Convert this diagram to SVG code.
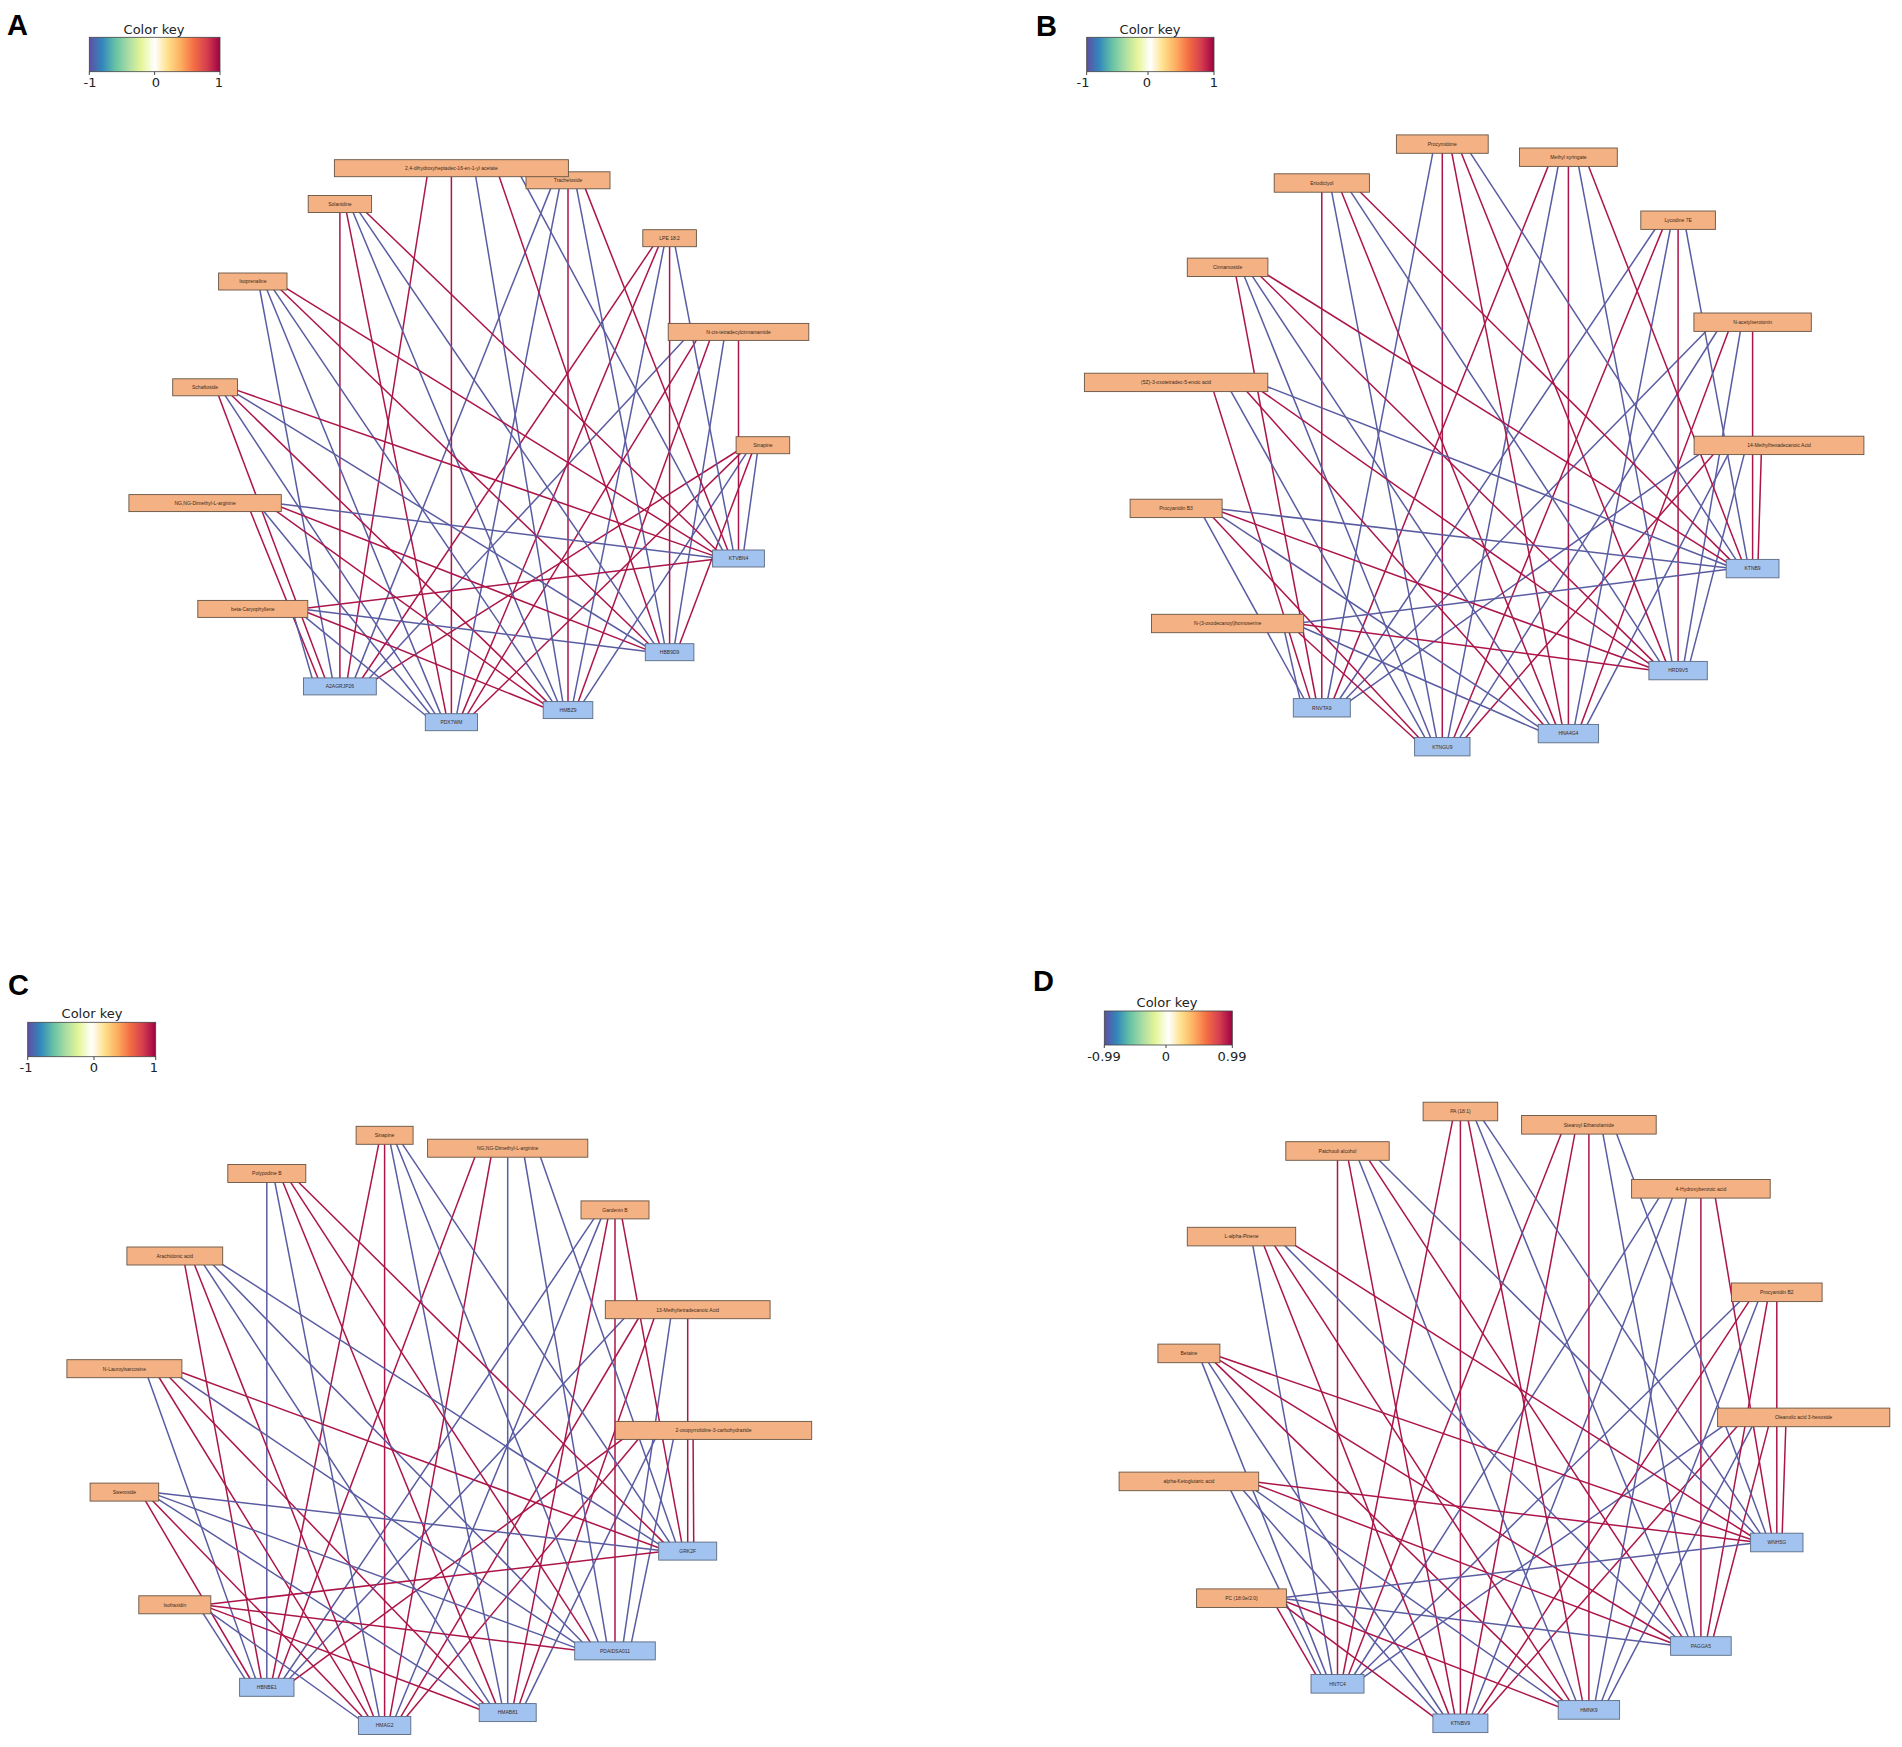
<svg xmlns="http://www.w3.org/2000/svg" width="1902" height="1747" viewBox="0 0 1902 1747">
<defs>
<linearGradient id="spec" x1="0" y1="0" x2="1" y2="0">
<stop offset="0" stop-color="#5E4FA2"/><stop offset="0.1" stop-color="#3288BD"/><stop offset="0.2" stop-color="#66C2A5"/><stop offset="0.3" stop-color="#ABDDA4"/><stop offset="0.4" stop-color="#E6F598"/><stop offset="0.5" stop-color="#FFFFFF"/><stop offset="0.6" stop-color="#FEE08B"/><stop offset="0.7" stop-color="#FDAE61"/><stop offset="0.8" stop-color="#F46D43"/><stop offset="0.9" stop-color="#D53E4F"/><stop offset="1" stop-color="#9E0142"/>
</linearGradient>
</defs>
<style>
.e line{fill:none;stroke-width:1.5}
.e .r{stroke:#AC154A}
.e .b{stroke:#5A5CA2}
.cn rect{fill:#F4B183;stroke:#665444;stroke-width:0.9}
.gn rect{fill:#A2C3EF;stroke:#5B6B82;stroke-width:0.9}
.l{font-family:"Liberation Sans",Arial,sans-serif;font-size:5px;fill:#3a2a1a;text-anchor:middle}
.key rect{fill:url(#spec);stroke:#444;stroke-width:0.8}
.key line{stroke:#444;stroke-width:1}
.key text{font-family:"DejaVu Sans",sans-serif;font-size:13px;fill:#222;text-anchor:middle}
.lab{font-family:"Liberation Sans",Arial,sans-serif;font-weight:bold;font-size:29px;fill:#000}
</style>
<rect width="1902" height="1747" fill="#fff"/>

<text class="lab" x="7" y="35">A</text>
<text class="lab" x="1036" y="36">B</text>
<text class="lab" x="8" y="995">C</text>
<text class="lab" x="1033" y="991">D</text>

<g id="key-A" class="key"><text x="154" y="33.5">Color key</text><rect x="89.3" y="37.3" width="130.7" height="34.4"/><line x1="89.3" y1="71.7" x2="89.3" y2="75"/><line x1="154.6" y1="71.7" x2="154.6" y2="75"/><line x1="220" y1="71.7" x2="220" y2="75"/><text x="90" y="87">-1</text><text x="156" y="87">0</text><text x="219" y="87">1</text></g>
<g id="key-B" class="key"><text x="1150" y="33.5">Color key</text><rect x="1086.7" y="37.3" width="127.3" height="34.4"/><line x1="1086.7" y1="71.7" x2="1086.7" y2="75"/><line x1="1148" y1="71.7" x2="1148" y2="75"/><line x1="1214" y1="71.7" x2="1214" y2="75"/><text x="1083" y="87">-1</text><text x="1147" y="87">0</text><text x="1214" y="87">1</text></g>
<g id="key-C" class="key"><text x="92" y="1018">Color key</text><rect x="27.7" y="1022.3" width="128" height="34.4"/><line x1="27.7" y1="1056.7" x2="27.7" y2="1060"/><line x1="94" y1="1056.7" x2="94" y2="1060"/><line x1="155.7" y1="1056.7" x2="155.7" y2="1060"/><text x="26" y="1072">-1</text><text x="94" y="1072">0</text><text x="154" y="1072">1</text></g>
<g id="key-D" class="key"><text x="1167" y="1007">Color key</text><rect x="1104.3" y="1011" width="128" height="34" /><line x1="1104.3" y1="1045" x2="1104.3" y2="1048"/><line x1="1166" y1="1045" x2="1166" y2="1048"/><line x1="1232.3" y1="1045" x2="1232.3" y2="1048"/><text x="1104" y="1061">-0.99</text><text x="1166" y="1061">0</text><text x="1232" y="1061">0.99</text></g>

<g id="connectors" class="e">
<g id="edges-A">
<line class="r" x1="739.7" y1="449.5" x2="371.4" y2="682.2"/>
<line class="r" x1="743.0" y1="450.9" x2="470.8" y2="716.5"/>
<line class="b" x1="747.1" y1="452.1" x2="582.6" y2="703.2"/>
<line class="r" x1="752.0" y1="453.0" x2="679.5" y2="644.4"/>
<line class="b" x1="757.3" y1="453.5" x2="743.9" y2="550.2"/>
<line class="b" x1="686.3" y1="337.6" x2="366.9" y2="680.7"/>
<line class="r" x1="697.2" y1="338.8" x2="466.7" y2="715.3"/>
<line class="r" x1="709.9" y1="339.7" x2="578.1" y2="702.3"/>
<line class="b" x1="723.9" y1="340.2" x2="674.7" y2="643.9"/>
<line class="r" x1="738.5" y1="340.4" x2="738.5" y2="550.0"/>
<line class="r" x1="653.8" y1="245.1" x2="361.3" y2="679.5"/>
<line class="r" x1="658.7" y1="246.0" x2="462.0" y2="714.4"/>
<line class="b" x1="664.0" y1="246.5" x2="573.2" y2="701.8"/>
<line class="r" x1="669.6" y1="246.7" x2="669.6" y2="643.7"/>
<line class="b" x1="675.2" y1="246.5" x2="733.1" y2="550.2"/>
<line class="b" x1="550.9" y1="188.1" x2="354.7" y2="678.6"/>
<line class="b" x1="559.3" y1="188.6" x2="456.8" y2="713.9"/>
<line class="r" x1="568.0" y1="188.8" x2="568.0" y2="701.6"/>
<line class="b" x1="576.7" y1="188.6" x2="664.5" y2="643.9"/>
<line class="r" x1="585.1" y1="188.1" x2="728.0" y2="550.7"/>
<line class="r" x1="427.1" y1="176.5" x2="347.5" y2="678.1"/>
<line class="r" x1="451.4" y1="176.7" x2="451.4" y2="713.7"/>
<line class="b" x1="475.7" y1="176.5" x2="562.8" y2="701.8"/>
<line class="r" x1="499.0" y1="176.0" x2="659.7" y2="644.4"/>
<line class="b" x1="520.2" y1="175.1" x2="723.3" y2="551.6"/>
<line class="r" x1="339.9" y1="212.5" x2="339.9" y2="677.9"/>
<line class="r" x1="346.5" y1="212.3" x2="446.0" y2="713.9"/>
<line class="b" x1="352.8" y1="211.8" x2="557.9" y2="702.3"/>
<line class="b" x1="358.5" y1="210.9" x2="655.3" y2="645.3"/>
<line class="r" x1="363.5" y1="209.7" x2="719.3" y2="552.8"/>
<line class="b" x1="259.9" y1="289.8" x2="332.3" y2="678.1"/>
<line class="b" x1="266.7" y1="289.3" x2="440.8" y2="714.4"/>
<line class="b" x1="272.9" y1="288.4" x2="553.4" y2="703.2"/>
<line class="r" x1="278.2" y1="287.2" x2="651.5" y2="646.5"/>
<line class="r" x1="282.4" y1="285.8" x2="716.1" y2="554.3"/>
<line class="r" x1="218.3" y1="395.1" x2="325.1" y2="678.6"/>
<line class="b" x1="224.2" y1="394.2" x2="436.1" y2="715.3"/>
<line class="r" x1="229.2" y1="393.0" x2="549.6" y2="704.4"/>
<line class="b" x1="233.2" y1="391.6" x2="648.6" y2="648.0"/>
<line class="r" x1="235.9" y1="389.9" x2="713.9" y2="555.9"/>
<line class="r" x1="249.9" y1="510.0" x2="318.5" y2="679.5"/>
<line class="b" x1="261.7" y1="508.8" x2="432.0" y2="716.5"/>
<line class="r" x1="271.1" y1="507.4" x2="546.5" y2="705.9"/>
<line class="r" x1="277.6" y1="505.7" x2="646.5" y2="649.6"/>
<line class="b" x1="280.9" y1="504.0" x2="712.7" y2="557.6"/>
<line class="b" x1="293.7" y1="614.6" x2="312.9" y2="680.7"/>
<line class="b" x1="300.4" y1="613.2" x2="428.8" y2="718.0"/>
<line class="r" x1="305.1" y1="611.5" x2="544.4" y2="707.5"/>
<line class="b" x1="307.5" y1="609.8" x2="645.4" y2="651.3"/>
<line class="r" x1="307.5" y1="608.0" x2="712.7" y2="559.4"/>
</g>
<g id="edges-B">
<line class="b" x1="1705.5" y1="449.9" x2="1346.5" y2="703.3"/>
<line class="r" x1="1715.9" y1="451.4" x2="1462.9" y2="740.7"/>
<line class="b" x1="1729.1" y1="452.7" x2="1586.2" y2="726.3"/>
<line class="b" x1="1744.4" y1="453.6" x2="1690.0" y2="662.4"/>
<line class="r" x1="1761.3" y1="454.2" x2="1758.1" y2="559.8"/>
<line class="b" x1="1709.0" y1="328.2" x2="1343.0" y2="701.8"/>
<line class="b" x1="1718.1" y1="329.5" x2="1458.6" y2="739.4"/>
<line class="r" x1="1728.7" y1="330.4" x2="1580.7" y2="725.4"/>
<line class="b" x1="1740.4" y1="331.0" x2="1684.2" y2="661.8"/>
<line class="r" x1="1752.6" y1="331.2" x2="1752.6" y2="559.6"/>
<line class="b" x1="1656.2" y1="227.5" x2="1338.6" y2="700.5"/>
<line class="r" x1="1662.9" y1="228.4" x2="1453.6" y2="738.5"/>
<line class="b" x1="1670.3" y1="229.0" x2="1574.7" y2="724.8"/>
<line class="r" x1="1678.1" y1="229.2" x2="1678.1" y2="661.6"/>
<line class="b" x1="1685.9" y1="229.0" x2="1747.1" y2="559.8"/>
<line class="r" x1="1548.5" y1="165.4" x2="1333.4" y2="699.6"/>
<line class="b" x1="1558.2" y1="166.0" x2="1448.1" y2="737.9"/>
<line class="r" x1="1568.4" y1="166.2" x2="1568.4" y2="724.6"/>
<line class="b" x1="1578.6" y1="166.0" x2="1672.0" y2="661.8"/>
<line class="r" x1="1588.3" y1="165.4" x2="1741.9" y2="560.4"/>
<line class="b" x1="1432.8" y1="152.9" x2="1327.7" y2="699.0"/>
<line class="r" x1="1442.3" y1="153.1" x2="1442.3" y2="737.7"/>
<line class="r" x1="1451.8" y1="152.9" x2="1562.1" y2="724.8"/>
<line class="r" x1="1461.0" y1="152.3" x2="1666.2" y2="662.4"/>
<line class="b" x1="1469.3" y1="151.4" x2="1737.1" y2="561.3"/>
<line class="r" x1="1321.8" y1="192.0" x2="1321.8" y2="698.8"/>
<line class="b" x1="1331.7" y1="191.8" x2="1436.5" y2="737.9"/>
<line class="r" x1="1341.2" y1="191.2" x2="1556.1" y2="725.4"/>
<line class="b" x1="1349.8" y1="190.3" x2="1660.9" y2="663.3"/>
<line class="r" x1="1357.2" y1="189.0" x2="1733.0" y2="562.6"/>
<line class="r" x1="1236.0" y1="276.1" x2="1315.9" y2="699.0"/>
<line class="b" x1="1244.0" y1="275.5" x2="1431.0" y2="738.5"/>
<line class="b" x1="1251.3" y1="274.6" x2="1550.6" y2="726.3"/>
<line class="r" x1="1257.5" y1="273.3" x2="1656.4" y2="664.6"/>
<line class="r" x1="1262.5" y1="271.8" x2="1729.7" y2="564.1"/>
<line class="r" x1="1213.4" y1="390.6" x2="1310.2" y2="699.6"/>
<line class="b" x1="1230.0" y1="389.7" x2="1426.0" y2="739.4"/>
<line class="r" x1="1244.2" y1="388.4" x2="1546.0" y2="727.6"/>
<line class="r" x1="1255.5" y1="386.9" x2="1652.8" y2="666.1"/>
<line class="b" x1="1263.3" y1="385.2" x2="1727.5" y2="565.8"/>
<line class="b" x1="1203.1" y1="515.7" x2="1305.0" y2="700.5"/>
<line class="r" x1="1210.3" y1="514.4" x2="1421.7" y2="740.7"/>
<line class="b" x1="1215.9" y1="512.9" x2="1542.2" y2="729.1"/>
<line class="r" x1="1219.8" y1="511.2" x2="1650.3" y2="667.8"/>
<line class="b" x1="1221.8" y1="509.3" x2="1726.3" y2="567.7"/>
<line class="b" x1="1284.1" y1="629.5" x2="1300.6" y2="701.8"/>
<line class="r" x1="1293.5" y1="628.0" x2="1418.3" y2="742.2"/>
<line class="b" x1="1300.0" y1="626.3" x2="1539.7" y2="730.8"/>
<line class="r" x1="1303.3" y1="624.4" x2="1649.1" y2="669.7"/>
<line class="b" x1="1303.3" y1="622.6" x2="1726.3" y2="569.5"/>
</g>
<g id="edges-C">
<line class="r" x1="628.5" y1="1434.9" x2="290.4" y2="1682.8"/>
<line class="r" x1="640.5" y1="1436.4" x2="404.1" y2="1719.5"/>
<line class="b" x1="655.8" y1="1437.7" x2="524.5" y2="1705.3"/>
<line class="b" x1="673.5" y1="1438.6" x2="631.4" y2="1642.7"/>
<line class="r" x1="693.1" y1="1439.2" x2="693.7" y2="1542.3"/>
<line class="b" x1="626.5" y1="1315.7" x2="287.0" y2="1681.3"/>
<line class="r" x1="639.2" y1="1317.0" x2="400.0" y2="1718.2"/>
<line class="r" x1="654.2" y1="1317.9" x2="519.3" y2="1704.4"/>
<line class="b" x1="670.6" y1="1318.5" x2="623.4" y2="1642.1"/>
<line class="r" x1="687.7" y1="1318.7" x2="687.7" y2="1542.1"/>
<line class="b" x1="595.0" y1="1217.2" x2="282.8" y2="1680.0"/>
<line class="b" x1="601.2" y1="1218.1" x2="395.3" y2="1717.3"/>
<line class="r" x1="607.9" y1="1218.7" x2="513.6" y2="1703.8"/>
<line class="r" x1="615.0" y1="1218.9" x2="615.0" y2="1641.9"/>
<line class="r" x1="622.1" y1="1218.7" x2="681.7" y2="1542.3"/>
<line class="r" x1="475.1" y1="1156.4" x2="277.9" y2="1679.1"/>
<line class="r" x1="491.0" y1="1157.0" x2="390.0" y2="1716.7"/>
<line class="b" x1="507.7" y1="1157.2" x2="507.7" y2="1703.6"/>
<line class="b" x1="524.4" y1="1157.0" x2="606.6" y2="1642.1"/>
<line class="b" x1="540.3" y1="1156.4" x2="675.9" y2="1542.9"/>
<line class="r" x1="378.7" y1="1144.1" x2="272.5" y2="1678.5"/>
<line class="r" x1="384.6" y1="1144.3" x2="384.6" y2="1716.5"/>
<line class="b" x1="390.5" y1="1144.1" x2="501.8" y2="1703.8"/>
<line class="b" x1="396.2" y1="1143.5" x2="598.6" y2="1642.7"/>
<line class="b" x1="401.4" y1="1142.6" x2="670.6" y2="1543.8"/>
<line class="b" x1="266.8" y1="1182.5" x2="266.8" y2="1678.3"/>
<line class="b" x1="274.9" y1="1182.3" x2="379.2" y2="1716.7"/>
<line class="r" x1="282.7" y1="1181.7" x2="496.1" y2="1704.4"/>
<line class="r" x1="289.7" y1="1180.8" x2="591.3" y2="1643.6"/>
<line class="r" x1="295.8" y1="1179.5" x2="666.2" y2="1545.1"/>
<line class="r" x1="184.8" y1="1264.8" x2="261.1" y2="1678.5"/>
<line class="r" x1="194.3" y1="1264.2" x2="373.9" y2="1717.3"/>
<line class="b" x1="203.0" y1="1263.3" x2="490.9" y2="1705.3"/>
<line class="b" x1="210.4" y1="1262.0" x2="585.1" y2="1644.9"/>
<line class="b" x1="216.3" y1="1260.5" x2="662.6" y2="1546.6"/>
<line class="b" x1="147.8" y1="1376.9" x2="255.7" y2="1679.1"/>
<line class="r" x1="158.2" y1="1376.0" x2="369.2" y2="1718.2"/>
<line class="r" x1="167.1" y1="1374.7" x2="486.5" y2="1706.6"/>
<line class="b" x1="174.2" y1="1373.2" x2="580.1" y2="1646.4"/>
<line class="r" x1="179.1" y1="1371.5" x2="660.1" y2="1548.3"/>
<line class="r" x1="144.6" y1="1499.4" x2="250.8" y2="1680.0"/>
<line class="r" x1="149.9" y1="1498.1" x2="365.1" y2="1719.5"/>
<line class="b" x1="154.1" y1="1496.6" x2="483.0" y2="1708.1"/>
<line class="b" x1="157.0" y1="1494.9" x2="576.7" y2="1648.1"/>
<line class="b" x1="158.5" y1="1493.0" x2="658.9" y2="1550.2"/>
<line class="b" x1="201.5" y1="1610.8" x2="246.6" y2="1681.3"/>
<line class="b" x1="206.0" y1="1609.3" x2="361.9" y2="1721.0"/>
<line class="r" x1="209.0" y1="1607.6" x2="480.6" y2="1709.8"/>
<line class="r" x1="210.6" y1="1605.7" x2="574.9" y2="1650.0"/>
<line class="r" x1="210.6" y1="1603.9" x2="658.9" y2="1552.0"/>
</g>
<g id="edges-D">
<line class="b" x1="1729.1" y1="1421.9" x2="1360.4" y2="1679.3"/>
<line class="r" x1="1739.7" y1="1423.4" x2="1480.8" y2="1717.3"/>
<line class="b" x1="1753.1" y1="1424.7" x2="1607.0" y2="1702.6"/>
<line class="r" x1="1768.7" y1="1425.6" x2="1713.2" y2="1637.8"/>
<line class="r" x1="1785.8" y1="1426.2" x2="1782.2" y2="1533.7"/>
<line class="b" x1="1743.1" y1="1298.3" x2="1357.2" y2="1677.8"/>
<line class="r" x1="1750.2" y1="1299.6" x2="1476.6" y2="1716.0"/>
<line class="b" x1="1758.4" y1="1300.5" x2="1601.4" y2="1701.7"/>
<line class="r" x1="1767.4" y1="1301.1" x2="1707.2" y2="1637.2"/>
<line class="r" x1="1776.8" y1="1301.3" x2="1776.8" y2="1533.5"/>
<line class="b" x1="1660.2" y1="1196.1" x2="1353.1" y2="1676.5"/>
<line class="b" x1="1672.7" y1="1197.0" x2="1471.6" y2="1715.1"/>
<line class="b" x1="1686.5" y1="1197.6" x2="1595.3" y2="1701.1"/>
<line class="r" x1="1700.9" y1="1197.8" x2="1700.9" y2="1637.0"/>
<line class="r" x1="1715.3" y1="1197.6" x2="1771.4" y2="1533.7"/>
<line class="r" x1="1561.5" y1="1133.0" x2="1348.3" y2="1675.6"/>
<line class="r" x1="1574.9" y1="1133.6" x2="1466.1" y2="1714.5"/>
<line class="r" x1="1588.9" y1="1133.8" x2="1588.9" y2="1700.9"/>
<line class="b" x1="1602.9" y1="1133.6" x2="1694.6" y2="1637.2"/>
<line class="b" x1="1616.3" y1="1133.0" x2="1766.1" y2="1534.3"/>
<line class="r" x1="1452.6" y1="1120.3" x2="1343.0" y2="1675.0"/>
<line class="r" x1="1460.4" y1="1120.5" x2="1460.4" y2="1714.3"/>
<line class="r" x1="1468.2" y1="1120.3" x2="1582.5" y2="1701.1"/>
<line class="b" x1="1475.6" y1="1119.7" x2="1688.6" y2="1637.8"/>
<line class="b" x1="1482.3" y1="1118.8" x2="1761.4" y2="1535.2"/>
<line class="r" x1="1337.5" y1="1160.0" x2="1337.5" y2="1674.8"/>
<line class="r" x1="1348.3" y1="1159.8" x2="1454.7" y2="1714.5"/>
<line class="b" x1="1358.5" y1="1159.2" x2="1576.4" y2="1701.7"/>
<line class="r" x1="1367.9" y1="1158.3" x2="1683.1" y2="1638.7"/>
<line class="b" x1="1375.9" y1="1157.0" x2="1757.3" y2="1536.5"/>
<line class="b" x1="1252.8" y1="1245.4" x2="1332.0" y2="1675.0"/>
<line class="r" x1="1263.6" y1="1244.8" x2="1449.2" y2="1715.1"/>
<line class="r" x1="1273.4" y1="1243.9" x2="1570.8" y2="1702.6"/>
<line class="b" x1="1281.8" y1="1242.6" x2="1678.4" y2="1640.0"/>
<line class="r" x1="1288.4" y1="1241.1" x2="1754.1" y2="1538.0"/>
<line class="b" x1="1201.5" y1="1361.6" x2="1326.7" y2="1675.6"/>
<line class="b" x1="1207.1" y1="1360.7" x2="1444.2" y2="1716.0"/>
<line class="r" x1="1211.9" y1="1359.4" x2="1566.1" y2="1703.9"/>
<line class="r" x1="1215.7" y1="1357.9" x2="1674.7" y2="1641.5"/>
<line class="r" x1="1218.4" y1="1356.2" x2="1751.9" y2="1539.7"/>
<line class="b" x1="1229.9" y1="1488.7" x2="1321.9" y2="1676.5"/>
<line class="b" x1="1240.8" y1="1487.4" x2="1440.0" y2="1717.3"/>
<line class="b" x1="1249.3" y1="1485.9" x2="1562.3" y2="1705.4"/>
<line class="r" x1="1255.3" y1="1484.2" x2="1672.1" y2="1643.2"/>
<line class="r" x1="1258.3" y1="1482.3" x2="1750.7" y2="1541.6"/>
<line class="r" x1="1274.9" y1="1604.2" x2="1317.8" y2="1677.8"/>
<line class="r" x1="1280.4" y1="1602.7" x2="1436.6" y2="1719.1"/>
<line class="r" x1="1284.2" y1="1601.0" x2="1559.7" y2="1707.3"/>
<line class="b" x1="1286.2" y1="1599.1" x2="1670.8" y2="1645.1"/>
<line class="b" x1="1286.2" y1="1597.3" x2="1750.7" y2="1543.4"/>
</g>
</g>

<g id="nodes-A">
<g id="A-c0" class="cn"><rect x="736.1" y="436.7" width="53.6" height="17"/><text class="l" x="762.9" y="447">Sinapine</text></g>
<g id="A-c1" class="cn"><rect x="668.2" y="323.4" width="140.6" height="17"/><text class="l" x="738.5" y="333.7">N-cis-tetradecylcinnamamide</text></g>
<g id="A-c2" class="cn"><rect x="642.8" y="229.7" width="53.6" height="17"/><text class="l" x="669.6" y="240">LPE 18:2</text></g>
<g id="A-c3" class="cn"><rect x="526" y="171.8" width="84" height="17"/><text class="l" x="568" y="182.1">Tracheloside</text></g>
<g id="A-c4" class="cn"><rect x="334.4" y="159.7" width="234" height="17"/><text class="l" x="451.4" y="170">2,4-dihydroxyheptadec-16-en-1-yl acetate</text></g>
<g id="A-c5" class="cn"><rect x="308.2" y="195.5" width="63.4" height="17"/><text class="l" x="339.9" y="205.8">Solanidine</text></g>
<g id="A-c6" class="cn"><rect x="218.6" y="273" width="68.4" height="17"/><text class="l" x="252.8" y="283.3">Isoprenaline</text></g>
<g id="A-c7" class="cn"><rect x="172.7" y="378.8" width="64.8" height="17"/><text class="l" x="205.1" y="389.1">Schaftoside</text></g>
<g id="A-c8" class="cn"><rect x="128.9" y="494.6" width="152.4" height="17"/><text class="l" x="205.1" y="504.9">NG,NG-Dimethyl-L-arginine</text></g>
<g id="A-c9" class="cn"><rect x="197.8" y="600.4" width="110" height="17"/><text class="l" x="252.8" y="610.7">beta-Caryophyllene</text></g>
<g id="A-g10" class="gn"><rect x="303.5" y="677.9" width="72.8" height="17"/><text class="l" x="339.9" y="688.2">A2AGRJP26</text></g>
<g id="A-g11" class="gn"><rect x="425.3" y="713.7" width="52.2" height="17"/><text class="l" x="451.4" y="724">PDX7WM</text></g>
<g id="A-g12" class="gn"><rect x="543.2" y="701.6" width="49.6" height="17"/><text class="l" x="568" y="711.9">HMBZ9</text></g>
<g id="A-g13" class="gn"><rect x="645.3" y="643.7" width="48.6" height="17"/><text class="l" x="669.6" y="654">HBB9D9</text></g>
<g id="A-g14" class="gn"><rect x="712.6" y="550" width="51.8" height="17"/><text class="l" x="738.5" y="560.3">KTVBN4</text></g>
</g>

<g id="nodes-B">
<g id="B-c0" class="cn"><rect x="1694.1" y="436.2" width="169.8" height="18.4"/><text class="l" x="1779" y="447.2">14-Methylhexadecanoic Acid</text></g>
<g id="B-c1" class="cn"><rect x="1693.9" y="313" width="117.4" height="18.4"/><text class="l" x="1752.6" y="324">N-acetylserotonin</text></g>
<g id="B-c2" class="cn"><rect x="1640.8" y="211" width="74.6" height="18.4"/><text class="l" x="1678.1" y="222">Lycodine 7E</text></g>
<g id="B-c3" class="cn"><rect x="1519.5" y="148" width="97.8" height="18.4"/><text class="l" x="1568.4" y="159">Methyl syringate</text></g>
<g id="B-c4" class="cn"><rect x="1396.4" y="134.9" width="91.8" height="18.4"/><text class="l" x="1442.3" y="145.9">Procymidone</text></g>
<g id="B-c5" class="cn"><rect x="1274.2" y="173.8" width="95.2" height="18.4"/><text class="l" x="1321.8" y="184.8">Eriodictyol</text></g>
<g id="B-c6" class="cn"><rect x="1187.3" y="258.1" width="80.6" height="18.4"/><text class="l" x="1227.6" y="269.1">Cinnamoside</text></g>
<g id="B-c7" class="cn"><rect x="1084.4" y="373.2" width="183.4" height="18.4"/><text class="l" x="1176.1" y="384.2">(5Z)-3-oxotetradec-5-enoic acid</text></g>
<g id="B-c8" class="cn"><rect x="1130.1" y="499.2" width="92" height="18.4"/><text class="l" x="1176.1" y="510.2">Procyanidin B3</text></g>
<g id="B-c9" class="cn"><rect x="1151.5" y="614.3" width="152.2" height="18.4"/><text class="l" x="1227.6" y="625.3">N-(3-oxodecanoyl)homoserine</text></g>
<g id="B-g10" class="gn"><rect x="1293.3" y="698.6" width="57" height="18.4"/><text class="l" x="1321.8" y="709.6">RNVTA9</text></g>
<g id="B-g11" class="gn"><rect x="1414.6" y="737.5" width="55.4" height="18.4"/><text class="l" x="1442.3" y="748.5">KTNGU9</text></g>
<g id="B-g12" class="gn"><rect x="1538.2" y="724.4" width="60.4" height="18.4"/><text class="l" x="1568.4" y="735.4">HNA4G4</text></g>
<g id="B-g13" class="gn"><rect x="1648.9" y="661.4" width="58.4" height="18.4"/><text class="l" x="1678.1" y="672.4">HRD9V5</text></g>
<g id="B-g14" class="gn"><rect x="1726.2" y="559.4" width="52.8" height="18.4"/><text class="l" x="1752.6" y="570.4">KTNB9</text></g>
</g>

<g id="nodes-C">
<g id="C-c0" class="cn"><rect x="615.3" y="1421.4" width="196.4" height="18"/><text class="l" x="713.5" y="1432.2">2-oxopyrrolidine-3-carbohydrazide</text></g>
<g id="C-c1" class="cn"><rect x="605.3" y="1300.7" width="164.8" height="18"/><text class="l" x="687.7" y="1311.5">13-Methyltetradecanoic Acid</text></g>
<g id="C-c2" class="cn"><rect x="581" y="1200.9" width="68" height="18"/><text class="l" x="615" y="1211.7">Gardenin B</text></g>
<g id="C-c3" class="cn"><rect x="427.6" y="1139.2" width="160.2" height="18"/><text class="l" x="507.7" y="1150">NG,NG-Dimethyl-L-arginine</text></g>
<g id="C-c4" class="cn"><rect x="356.1" y="1126.3" width="57" height="18"/><text class="l" x="384.6" y="1137.1">Sinapine</text></g>
<g id="C-c5" class="cn"><rect x="227.8" y="1164.5" width="78" height="18"/><text class="l" x="266.8" y="1175.3">Polypodine B</text></g>
<g id="C-c6" class="cn"><rect x="126.9" y="1247" width="95.8" height="18"/><text class="l" x="174.8" y="1257.8">Arachidonic acid</text></g>
<g id="C-c7" class="cn"><rect x="66.9" y="1359.7" width="115" height="18"/><text class="l" x="124.4" y="1370.5">N-Lauroylsarcosine</text></g>
<g id="C-c8" class="cn"><rect x="90.1" y="1483.1" width="68.6" height="18"/><text class="l" x="124.4" y="1493.9">Sweroside</text></g>
<g id="C-c9" class="cn"><rect x="138.8" y="1595.8" width="72" height="18"/><text class="l" x="174.8" y="1606.6">Isofraxidin</text></g>
<g id="C-g10" class="gn"><rect x="239.6" y="1678.3" width="54.4" height="18"/><text class="l" x="266.8" y="1689.1">HBNBE1</text></g>
<g id="C-g11" class="gn"><rect x="358.4" y="1716.5" width="52.4" height="18"/><text class="l" x="384.6" y="1727.3">HMAG2</text></g>
<g id="C-g12" class="gn"><rect x="479.2" y="1703.6" width="57" height="18"/><text class="l" x="507.7" y="1714.4">HMAB81</text></g>
<g id="C-g13" class="gn"><rect x="574.7" y="1641.9" width="80.6" height="18"/><text class="l" x="615" y="1652.7">PDAIDSA011</text></g>
<g id="C-g14" class="gn"><rect x="658.7" y="1542.1" width="58" height="18"/><text class="l" x="687.7" y="1552.9">GRK2F</text></g>
</g>

<g id="nodes-D">
<g id="D-c0" class="cn"><rect x="1717.6" y="1408.1" width="172.2" height="18.6"/><text class="l" x="1803.7" y="1419.2">Oleanolic acid 3-hexoside</text></g>
<g id="D-c1" class="cn"><rect x="1731.5" y="1283" width="90.6" height="18.6"/><text class="l" x="1776.8" y="1294.1">Procyanidin B2</text></g>
<g id="D-c2" class="cn"><rect x="1631.6" y="1179.5" width="138.6" height="18.6"/><text class="l" x="1700.9" y="1190.6">4-Hydroxybenzoic acid</text></g>
<g id="D-c3" class="cn"><rect x="1521.6" y="1115.5" width="134.6" height="18.6"/><text class="l" x="1588.9" y="1126.6">Stearoyl Ethanolamide</text></g>
<g id="D-c4" class="cn"><rect x="1423.1" y="1102.2" width="74.6" height="18.6"/><text class="l" x="1460.4" y="1113.3">PA (18:1)</text></g>
<g id="D-c5" class="cn"><rect x="1285.8" y="1141.7" width="103.4" height="18.6"/><text class="l" x="1337.5" y="1152.8">Patchouli alcohol</text></g>
<g id="D-c6" class="cn"><rect x="1187.3" y="1227.3" width="108.4" height="18.6"/><text class="l" x="1241.5" y="1238.4">L-alpha-Pinene</text></g>
<g id="D-c7" class="cn"><rect x="1157.9" y="1344.1" width="62" height="18.6"/><text class="l" x="1188.9" y="1355.2">Betaine</text></g>
<g id="D-c8" class="cn"><rect x="1119.1" y="1472.1" width="139.6" height="18.6"/><text class="l" x="1188.9" y="1483.2">alpha-Ketoglutaric acid</text></g>
<g id="D-c9" class="cn"><rect x="1196.6" y="1588.9" width="89.8" height="18.6"/><text class="l" x="1241.5" y="1600">PC (18:0e/2:0)</text></g>
<g id="D-g10" class="gn"><rect x="1311" y="1674.5" width="53" height="18.6"/><text class="l" x="1337.5" y="1685.6">HNTC4</text></g>
<g id="D-g11" class="gn"><rect x="1432.9" y="1714" width="55" height="18.6"/><text class="l" x="1460.4" y="1725.1">KTNBV9</text></g>
<g id="D-g12" class="gn"><rect x="1558.2" y="1700.6" width="61.4" height="18.6"/><text class="l" x="1588.9" y="1711.7">HMNK9</text></g>
<g id="D-g13" class="gn"><rect x="1670.6" y="1636.7" width="60.6" height="18.6"/><text class="l" x="1700.9" y="1647.8">PAGGA5</text></g>
<g id="D-g14" class="gn"><rect x="1750.6" y="1533.2" width="52.4" height="18.6"/><text class="l" x="1776.8" y="1544.3">WNH5G</text></g>
</g>
</svg>
